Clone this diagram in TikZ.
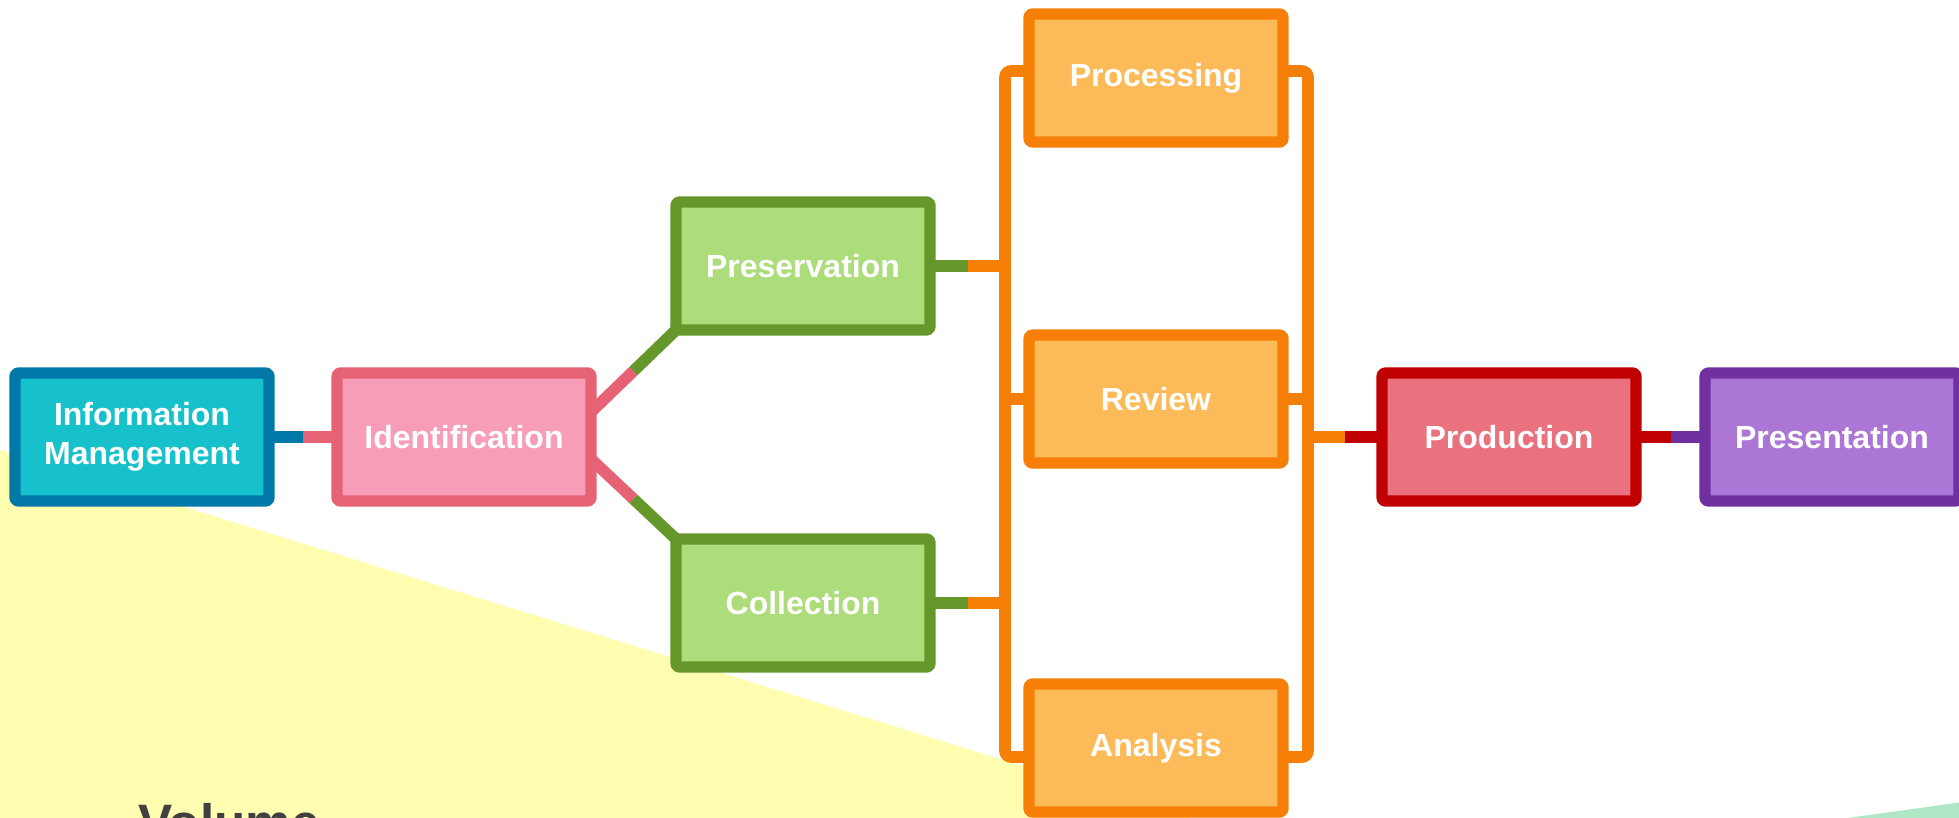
\documentclass[tikz,border=0pt]{standalone}
\usepackage{fontspec}
\setmainfont{Liberation Sans}
\usetikzlibrary{calc}
\definecolor{imfill}{RGB}{23,193,204}
\definecolor{imline}{RGB}{0,120,168}
\definecolor{idfill}{RGB}{247,157,184}
\definecolor{idline}{RGB}{230,98,117}
\definecolor{grfill}{RGB}{173,220,122}
\definecolor{grline}{RGB}{101,151,43}
\definecolor{orfill}{RGB}{252,187,88}
\definecolor{orline}{RGB}{245,127,7}
\definecolor{prfill}{RGB}{233,114,126}
\definecolor{prline}{RGB}{192,0,0}
\definecolor{ptfill}{RGB}{171,118,213}
\definecolor{ptline}{RGB}{112,48,160}
\definecolor{yellowbg}{RGB}{255,253,176}
\definecolor{greenbg}{RGB}{174,230,198}
\definecolor{volgrey}{RGB}{64,64,64}
\begin{document}
\begin{tikzpicture}[x=0.5pt,y=-0.5pt,line join=round,line cap=butt]
	\tikzset{
		box/.style={draw, line width=5.6pt, minimum width=127pt, minimum height=64pt,
			inner sep=0pt, outer sep=0pt, rounded corners=1.5pt, text=white, align=center,
			font=\bfseries\fontsize{16}{19.5}\selectfont},
		link/.style={line width=5.8pt}
	}
	\useasboundingbox (0,0) rectangle (1959,818);
	\clip (0,0) rectangle (1959,818);
	% background
	\fill[yellowbg] (0,450) -- (1191,818) -- (0,818) -- cycle;
	\fill[greenbg] (1848,818) -- (1970,801) -- (1970,818) -- cycle;
	\node[anchor=base west, inner sep=0pt, text=volgrey, font=\bfseries\fontsize{25.6}{30}\selectfont] (vol) at (138,840) {Volume};
	% boxes
	\node[box, fill=imfill, draw=imline] (im) at (142,437) {Information\\Management};
	\node[box, fill=idfill, draw=idline] (id) at (464,437) {Identification};
	\node[box, fill=grfill, draw=grline] (pres) at (803,266) {Preservation};
	\node[box, fill=grfill, draw=grline] (coll) at (803,603) {Collection};
	\node[box, fill=orfill, draw=orline] (proc) at (1156,78) {Processing};
	\node[box, fill=orfill, draw=orline] (rev) at (1156,399) {Review};
	\node[box, fill=orfill, draw=orline] (ana) at (1156,748) {Analysis};
	\node[box, fill=prfill, draw=prline] (prod) at (1509,437) {Production};
	\node[box, fill=ptfill, draw=ptline] (pt) at (1832,437) {Presentation};
	% buses
	\coordinate (lb) at (1005,0);
	\coordinate (rb) at (1308,0);
	\draw[link, orline, rounded corners=3pt] ($(proc.west)+(0,-7)$) -- ($(proc.west -| lb)+(0,-7)$)
		-- ($(ana.west -| lb)+(0,9)$) -- ($(ana.west)+(0,9)$);
	\draw[link, orline, rounded corners=3pt] ($(proc.east)+(0,-7)$) -- ($(proc.east -| rb)+(0,-7)$)
		-- ($(ana.east -| rb)+(0,9)$) -- ($(ana.east)+(0,9)$);
	\draw[link, orline] (rev.west) -- (rev.west -| lb);
	\draw[link, orline] (rev.east) -- (rev.east -| rb);
	% links
	\coordinate (m1) at ($(im.east)!.5!(id.west)$);
	\draw[link, imline] (im.east) -- (m1);
	\draw[link, idline] (m1) -- (id.west);
	\coordinate (d1) at ($(id.east)+(0,-25)$);
	\coordinate (d2) at ($(id.east)+(0,22)$);
	\coordinate (m2) at ($(d1)!.5!(pres.south west)$);
	\coordinate (m3) at ($(d2)!.5!(coll.north west)$);
	\draw[link, idline] (d1) -- (m2);
	\draw[link, grline] (m2) -- (pres.south west);
	\draw[link, idline] (d2) -- (m3);
	\draw[link, grline] (m3) -- (coll.north west);
	\foreach \n in {pres,coll}{
		\coordinate (\n-mid) at ($(\n.east)!.5!(\n.east -| lb)$);
		\draw[link, grline] (\n.east) -- (\n-mid);
		\draw[link, orline] (\n-mid) -- (\n.east -| lb);
	}
	\coordinate (m5) at ($(rb |- prod.west)!.5!(prod.west)$);
	\draw[link, orline] (rb |- prod.west) -- (m5);
	\draw[link, prline] (m5) -- (prod.west);
	\coordinate (m6) at ($(prod.east)!.5!(pt.west)$);
	\draw[link, prline] (prod.east) -- (m6);
	\draw[link, ptline] (m6) -- (pt.west);
\end{tikzpicture}
\end{document}
